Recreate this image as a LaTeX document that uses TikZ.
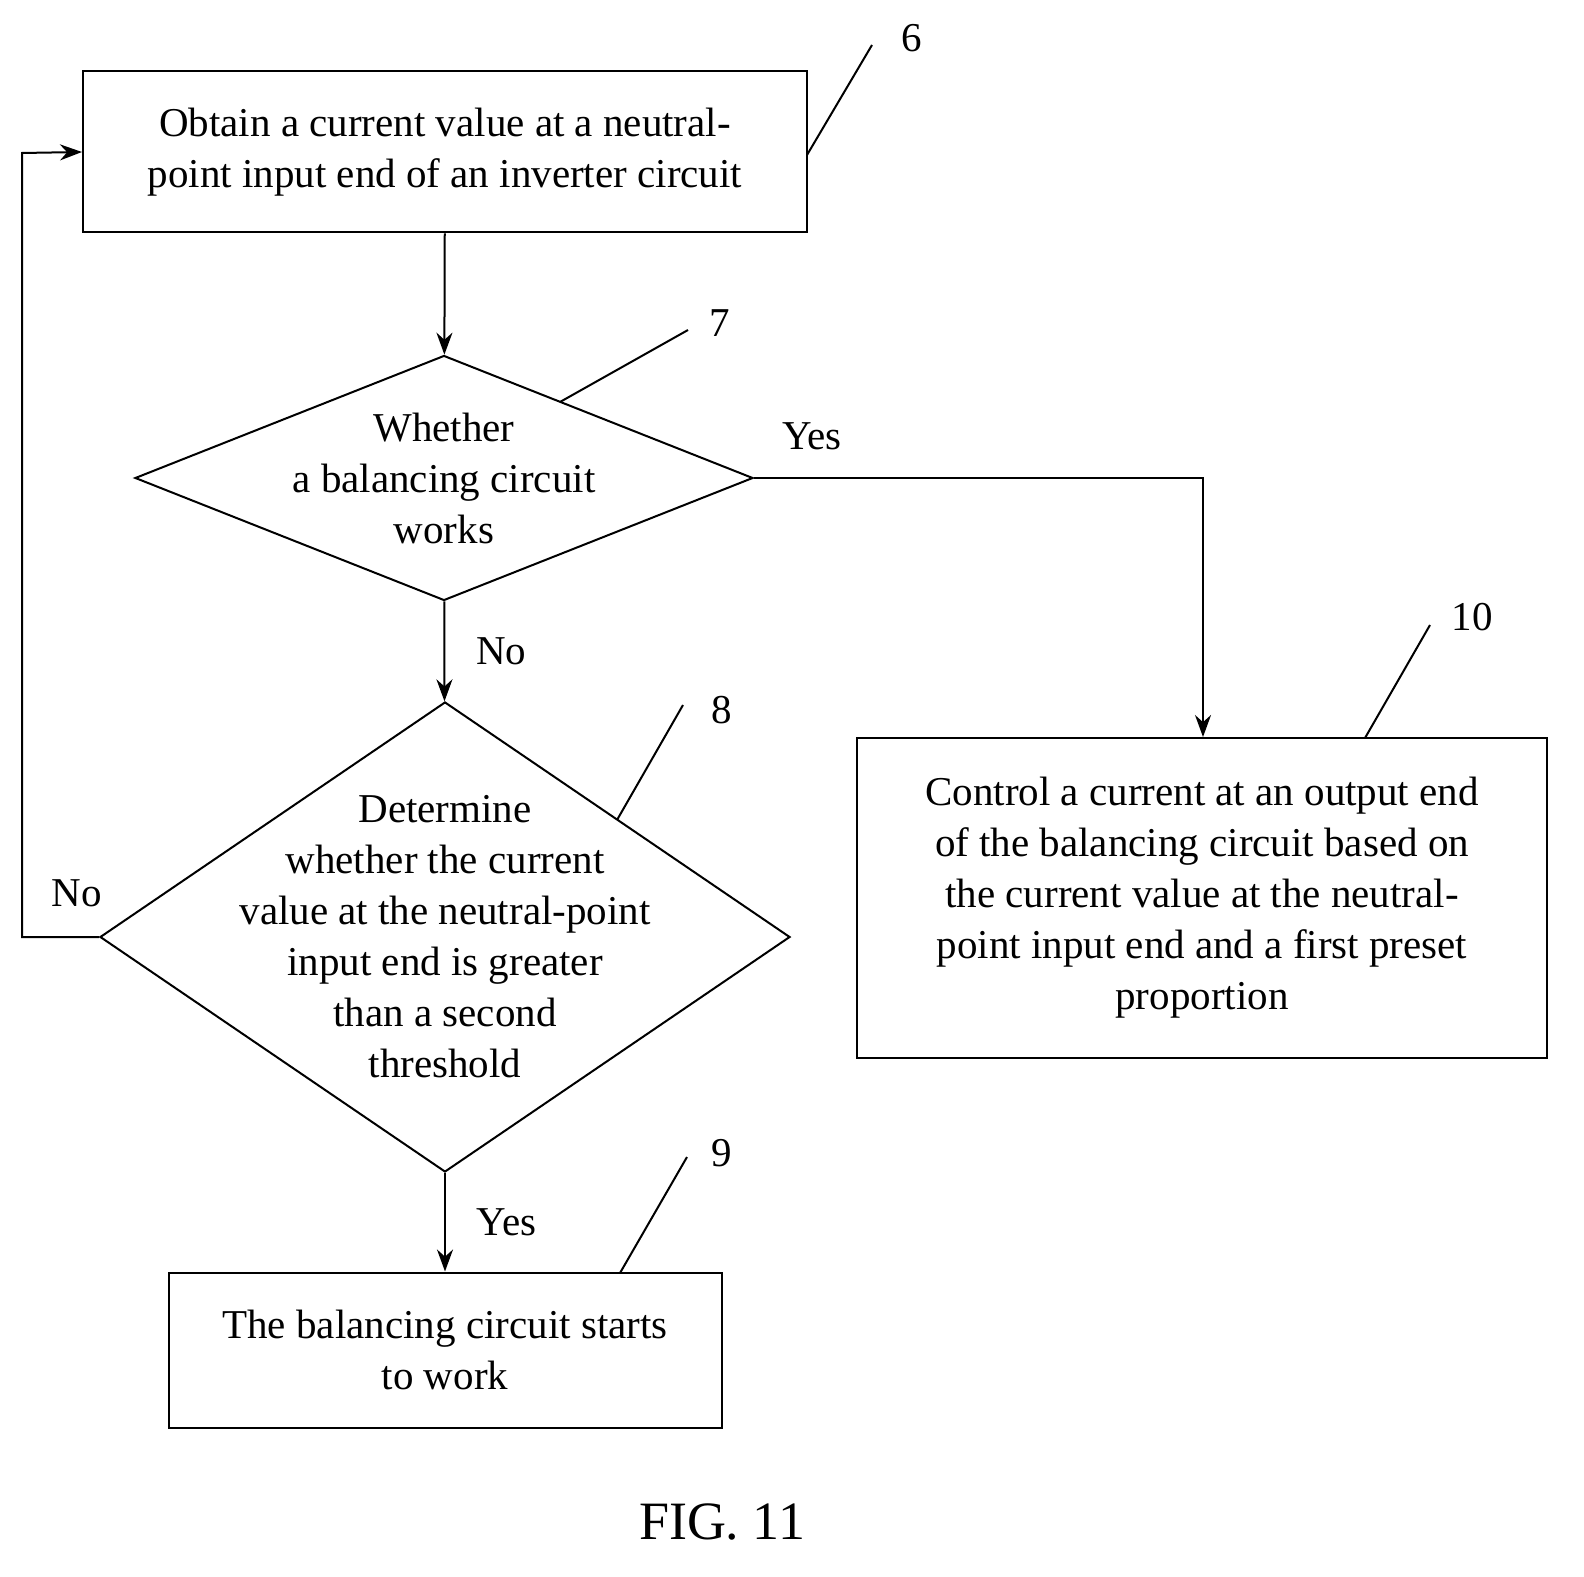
\documentclass[tikz,border=0pt]{standalone}
\usepackage{fontspec}
\setmainfont{Liberation Serif}
\usetikzlibrary{shapes.geometric,arrows.meta}
\tikzset{
    box/.style={draw, line width=1pt, align=center, inner sep=0pt},
    dia/.style={draw, line width=1pt, diamond, inner sep=0pt, aspect=2},
    lbl/.style={align=center},
    flow/.style={-{Stealth[length=11pt,width=8pt]}, line width=1pt},
    lead/.style={line width=1pt}
}
\begin{document}
\begin{tikzpicture}[x=0.5pt, y=-0.5pt, font=\fontsize{20.5}{25.5}\selectfont]
    \useasboundingbox (0,0) rectangle (1584,1577);
    % steps
    \node[box, minimum width=362pt, minimum height=80.5pt] (obtain) at (445,152)
        {Obtain a current value at a neutral-\\point input end of an inverter circuit};
    \node[dia, minimum width=309pt, minimum height=122.5pt] (works) at (444,478) {};
    \node[lbl] at (works) {Whether\\a balancing circuit\\works};
    \node[dia, minimum width=345pt, minimum height=235pt] (greater) at (445,937) {};
    \node[lbl] at (greater) {Determine\\whether the current\\value at the neutral-point\\input end is greater\\than a second\\threshold};
    \node[box, minimum width=276.5pt, minimum height=77.5pt] (starts) at (445,1350)
        {The balancing circuit starts\\to work};
    \node[box, minimum width=345pt, minimum height=160pt] (control) at (1202,898)
        {Control a current at an output end\\of the balancing circuit based on\\the current value at the neutral-\\point input end and a first preset\\proportion};
    \coordinate (loopL) at (22,937);
    \coordinate (loopT) at (22,153);
    \coordinate (yesR) at (1203,478);

    % connectors
    \draw[flow] (obtain) -- (works);
    \draw[flow] (works) -- node[right, xshift=12pt] {No} (greater);
    \draw[flow] (greater) -- node[right, xshift=12pt] {Yes} (starts);
    \draw[flow] (works.east) -- (yesR) -- (control.north -| yesR);
    \draw[flow] (greater.west) -- (loopL) -- (loopT) -- (obtain.west);
    \node at (812,436) {Yes};
    \node at (77,893) {No};

    % reference numerals
    \node (n6) at (912,38) {6};
    \node (n7) at (720,323) {7};
    \node (n8) at (722,710) {8};
    \node (n9) at (722,1153) {9};
    \node (n10) at (1472,617) {10};
    \draw[lead] (807,155) -- (872,45);
    \draw[lead] (560,402) -- (688,330);
    \draw[lead] (617,820) -- (683,705);
    \draw[lead] (620,1273) -- (687,1157);
    \draw[lead] (1365,738) -- (1430,625);

    \node[font=\fontsize{27}{30}\selectfont] (fig) at (722,1522) {FIG. 11};
\end{tikzpicture}
\end{document}
